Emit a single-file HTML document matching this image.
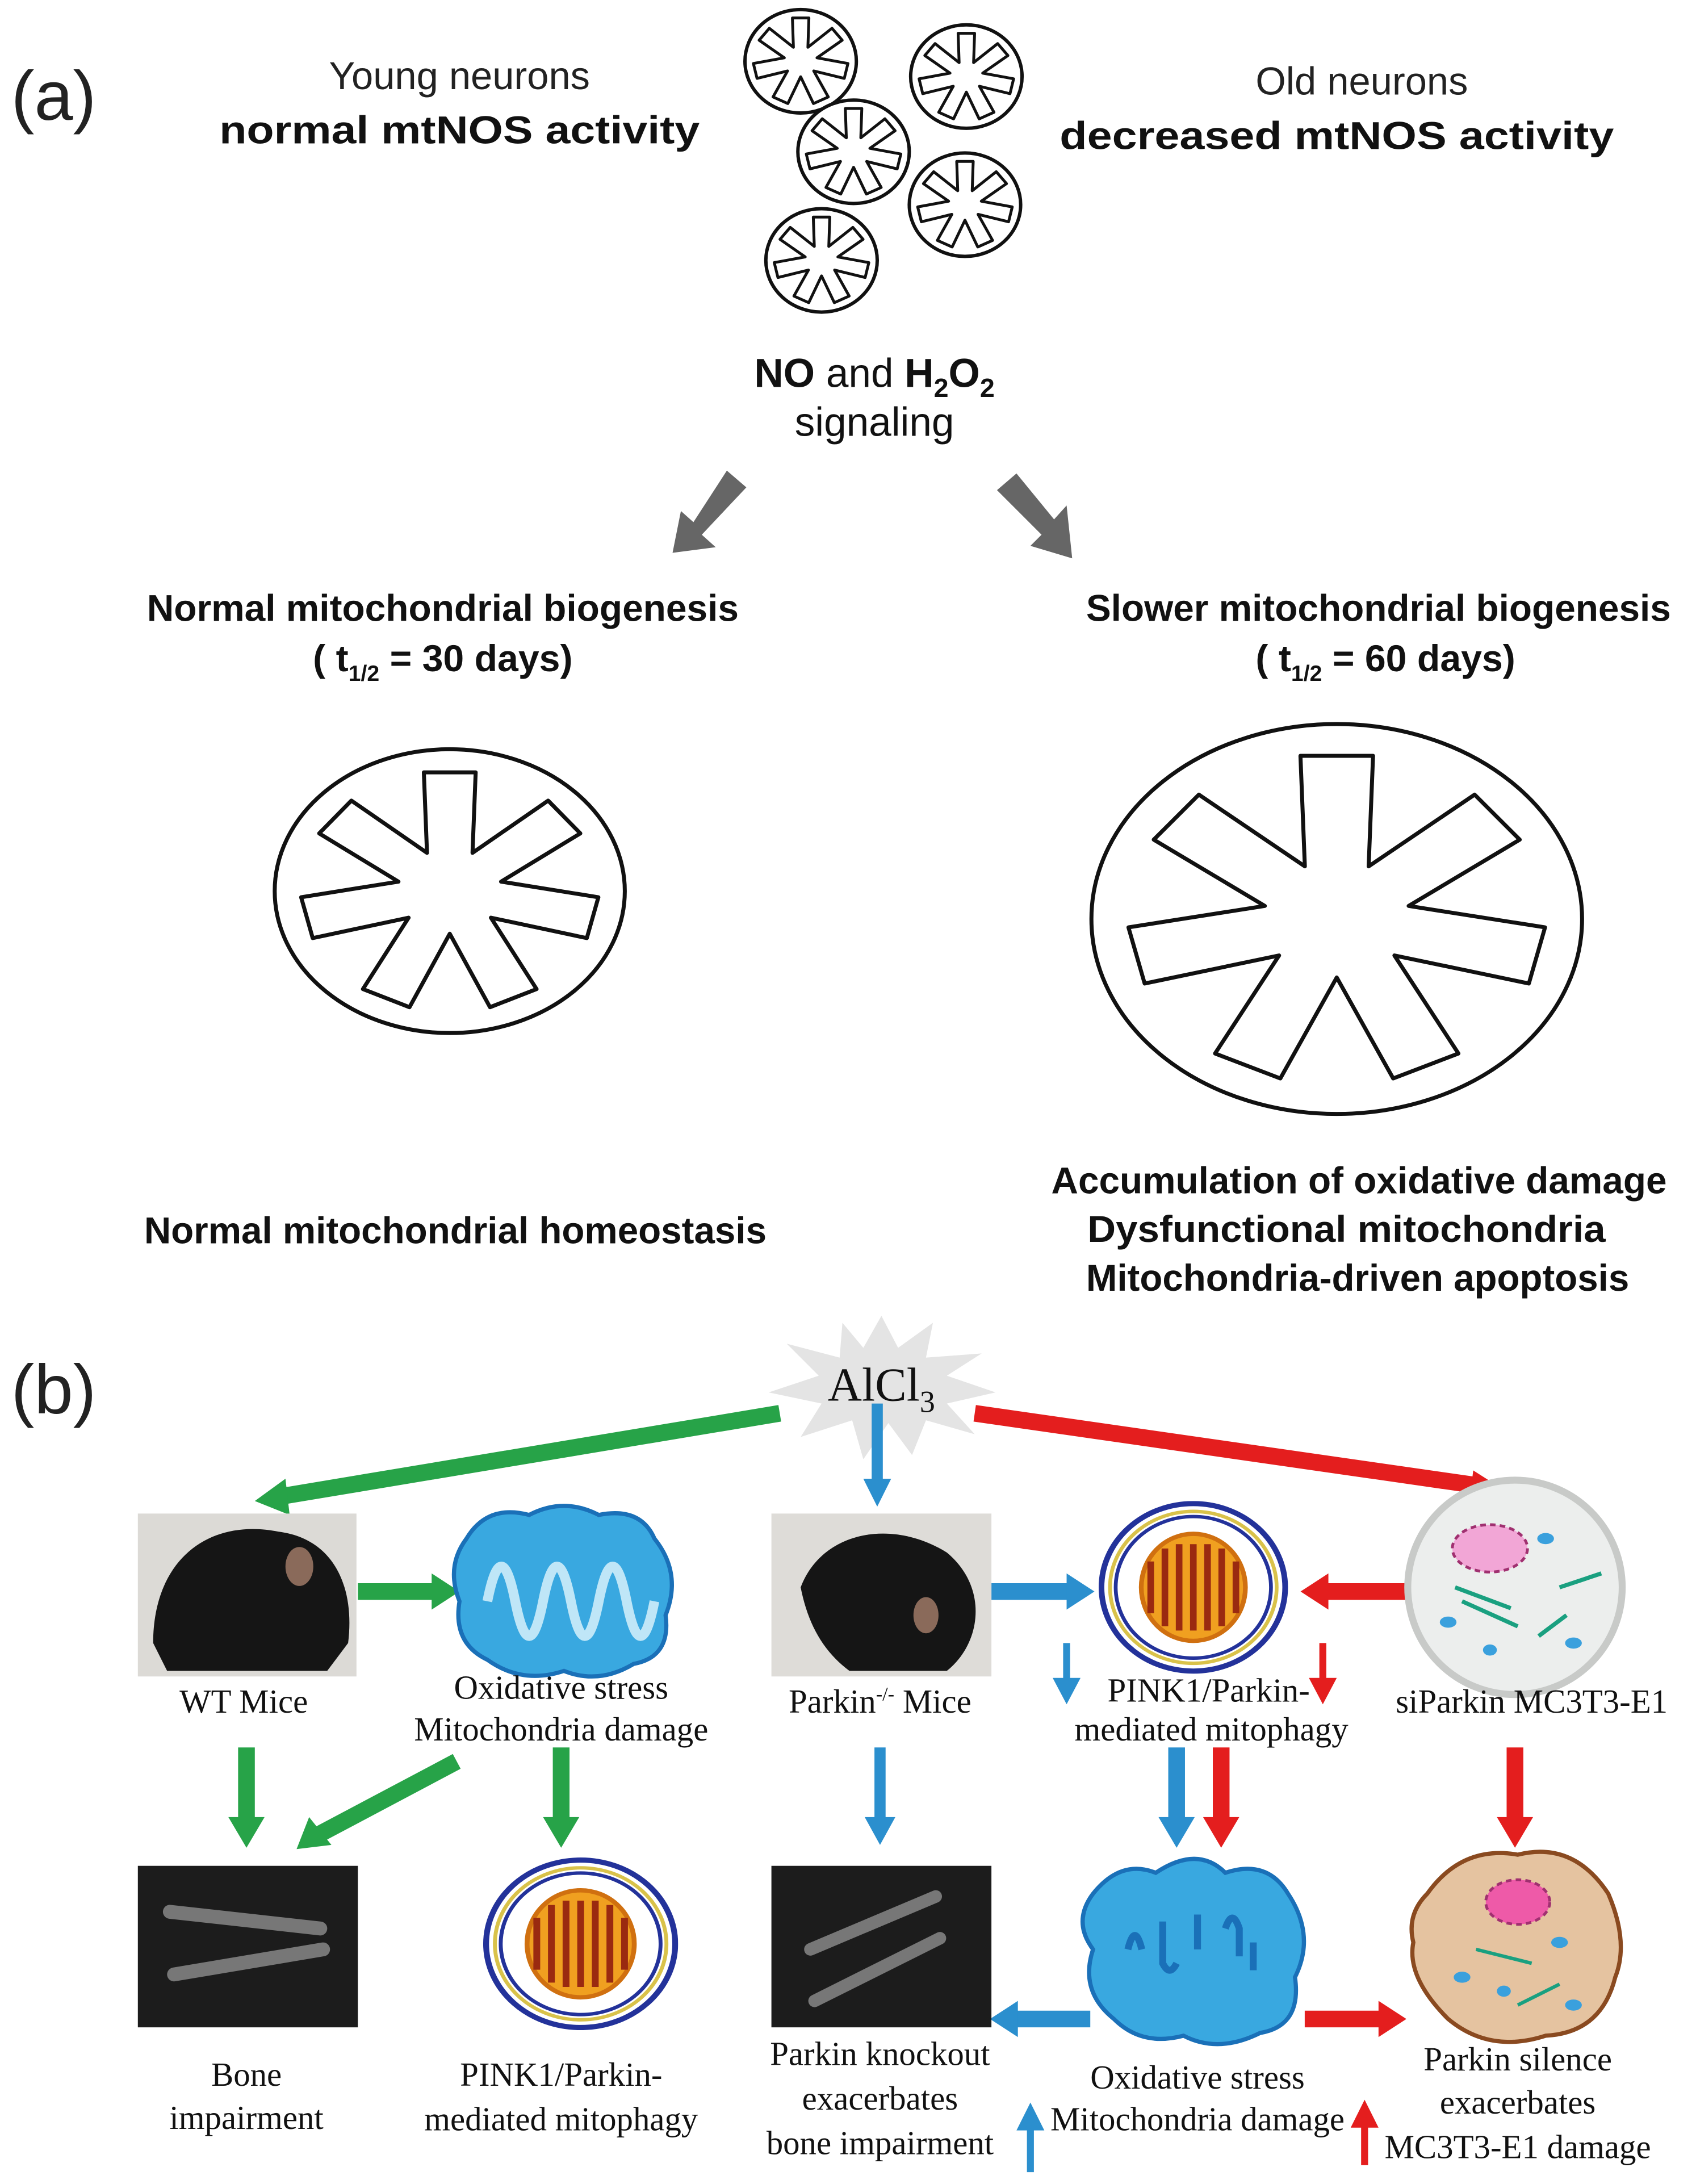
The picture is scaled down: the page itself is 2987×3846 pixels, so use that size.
<!DOCTYPE html>
<html><head><meta charset="utf-8"><style>
html,body{margin:0;padding:0;background:#fff}
svg{display:block}
.s{font-family:"Liberation Sans",sans-serif}
.b{font-family:"Liberation Sans",sans-serif;font-weight:bold}
.t{font-family:"Liberation Serif",serif;font-size:24px;fill:#111}
</style></head><body>
<svg width="2987" height="3846" viewBox="0 0 1218 1568.5" preserveAspectRatio="none" xmlns="http://www.w3.org/2000/svg">
<defs>
<symbol id="mito" viewBox="-1.05 -1.05 2.1 2.1" preserveAspectRatio="none">
<ellipse cx="0" cy="0" rx="1" ry="1" fill="#fff" stroke="#111" stroke-width="7" vector-effect="non-scaling-stroke"/>
<polygon points="-0.148,-0.837 0.148,-0.837 0.130,-0.270 0.562,-0.638 0.746,-0.407 0.293,-0.067 0.849,0.043 0.783,0.331 0.235,0.187 0.496,0.690 0.230,0.818 0,0.3 -0.230,0.818 -0.496,0.690 -0.235,0.187 -0.783,0.331 -0.849,0.043 -0.293,-0.067 -0.746,-0.407 -0.562,-0.638 -0.130,-0.270" fill="none" stroke="#111" stroke-width="7" stroke-linejoin="round" vector-effect="non-scaling-stroke"/>
</symbol>
<symbol id="mitos" viewBox="-1.05 -1.05 2.1 2.1" preserveAspectRatio="none">
<ellipse cx="0" cy="0" rx="1" ry="1" fill="#fff" stroke="#111" stroke-width="6" vector-effect="non-scaling-stroke"/>
<polygon points="-0.148,-0.837 0.148,-0.837 0.130,-0.270 0.562,-0.638 0.746,-0.407 0.293,-0.067 0.849,0.043 0.783,0.331 0.235,0.187 0.496,0.690 0.230,0.818 0,0.3 -0.230,0.818 -0.496,0.690 -0.235,0.187 -0.783,0.331 -0.849,0.043 -0.293,-0.067 -0.746,-0.407 -0.562,-0.638 -0.130,-0.270" fill="none" stroke="#111" stroke-width="5" stroke-linejoin="round" vector-effect="non-scaling-stroke"/>
</symbol>
<symbol id="pink" viewBox="-1 -1 2 2" preserveAspectRatio="none">
<ellipse rx="0.97" ry="0.97" fill="#fff" stroke="#23329a" stroke-width="0.06"/>
<ellipse rx="0.88" ry="0.88" fill="none" stroke="#d9c24a" stroke-width="0.04"/>
<ellipse rx="0.82" ry="0.82" fill="none" stroke="#23329a" stroke-width="0.04"/>
<ellipse rx="0.55" ry="0.62" fill="#f0a020" stroke="#d07010" stroke-width="0.05"/>
<path d="M-0.45,0.3 L-0.45,-0.3 M-0.3,0.45 L-0.3,-0.45 M-0.15,0.5 L-0.15,-0.5 M0,0.5 L0,-0.5 M0.15,0.5 L0.15,-0.5 M0.3,0.45 L0.3,-0.45 M0.45,0.3 L0.45,-0.3" stroke="#9a2a10" stroke-width="0.07"/>
</symbol>
</defs>
<rect width="1218" height="1568.5" fill="#fff"/>
<!-- (a) -->
<text x="8" y="86" class="s" font-size="50" fill="#222">(a)</text>
<text x="330" y="64" class="s" font-size="28" text-anchor="middle" fill="#222">Young neurons</text>
<text x="330" y="103" class="b" font-size="28" text-anchor="middle" fill="#111" textLength="345" lengthAdjust="spacingAndGlyphs">normal mtNOS activity</text>
<text x="978" y="68" class="s" font-size="28" text-anchor="middle" fill="#222">Old neurons</text>
<text x="960" y="107" class="b" font-size="28" text-anchor="middle" fill="#111" textLength="398" lengthAdjust="spacingAndGlyphs">decreased mtNOS activity</text>
<use href="#mitos" x="533" y="5" width="84" height="78"/>
<use href="#mitos" x="652" y="16" width="84" height="78"/>
<use href="#mitos" x="571" y="70" width="84" height="78"/>
<use href="#mitos" x="651" y="108" width="84" height="78"/>
<use href="#mitos" x="548" y="148" width="84" height="78"/>
<text x="628" y="278" class="s" font-size="29" text-anchor="middle" fill="#111"><tspan font-weight="bold">NO</tspan> and <tspan font-weight="bold">H<tspan font-size="19" dy="7">2</tspan><tspan dy="-7">O</tspan><tspan font-size="19" dy="7">2</tspan></tspan></text>
<text x="628" y="313" class="s" font-size="29" text-anchor="middle" fill="#111">signaling</text>
<g fill="#666">
<polygon points="522,338 536,350 504,384 514,393 483,397 489,367 498,375"/>
<polygon points="716,352 730,340 757,373 766,363 770,401 740,392 748,384"/>
</g>
<text x="318" y="446" class="b" font-size="27" text-anchor="middle" fill="#111" textLength="425" lengthAdjust="spacingAndGlyphs">Normal mitochondrial biogenesis</text>
<text x="318" y="482" class="b" font-size="27" text-anchor="middle" fill="#111">( t<tspan font-size="16" dy="7">1/2</tspan><tspan dy="-7"> = 30 days)</tspan></text>
<text x="990" y="446" class="b" font-size="27" text-anchor="middle" fill="#111" textLength="420" lengthAdjust="spacingAndGlyphs">Slower mitochondrial biogenesis</text>
<text x="995" y="482" class="b" font-size="27" text-anchor="middle" fill="#111">( t<tspan font-size="16" dy="7">1/2</tspan><tspan dy="-7"> = 60 days)</tspan></text>
<use href="#mito" x="191" y="533" width="264" height="214"/>
<use href="#mito" x="775" y="513" width="370" height="294"/>
<text x="327" y="893" class="b" font-size="27" text-anchor="middle" fill="#111" textLength="447" lengthAdjust="spacingAndGlyphs">Normal mitochondrial homeostasis</text>
<text x="976" y="857" class="b" font-size="27" text-anchor="middle" fill="#111" textLength="442" lengthAdjust="spacingAndGlyphs">Accumulation of oxidative damage</text>
<text x="967" y="892" class="b" font-size="27" text-anchor="middle" fill="#111" textLength="372" lengthAdjust="spacingAndGlyphs">Dysfunctional mitochondria</text>
<text x="975" y="927" class="b" font-size="27" text-anchor="middle" fill="#111" textLength="390" lengthAdjust="spacingAndGlyphs">Mitochondria-driven apoptosis</text>
<!-- (b) -->
<text x="8" y="1015" class="s" font-size="50" fill="#222">(b)</text>
<polygon points="633,945 645,968 670,950 665,975 705,972 680,988 715,1000 680,1008 700,1030 665,1020 655,1045 638,1022 620,1048 612,1020 575,1032 590,1008 552,1000 588,988 565,965 603,975 605,950 620,968" fill="#e4e4e4"/>
<text x="633" y="1006" font-family="Liberation Serif,serif" font-size="34" text-anchor="middle" fill="#111">AlCl<tspan font-size="22" dy="8">3</tspan></text>
<g stroke-width="12" fill="none">
<line x1="560" y1="1015" x2="200" y2="1075" stroke="#27a348"/>
<line x1="700" y1="1015" x2="1062" y2="1067" stroke="#e41e1e"/>
<line x1="630" y1="1008" x2="630" y2="1065" stroke="#2b8fce" stroke-width="8"/>
<line x1="257" y1="1143" x2="312" y2="1143" stroke="#27a348"/>
<line x1="712" y1="1143" x2="768" y2="1143" stroke="#2b8fce"/>
<line x1="1010" y1="1143" x2="952" y2="1143" stroke="#e41e1e"/>
<line x1="177" y1="1255" x2="177" y2="1308" stroke="#27a348"/>
<line x1="328" y1="1265" x2="228" y2="1318" stroke="#27a348"/>
<line x1="403" y1="1255" x2="403" y2="1308" stroke="#27a348"/>
<line x1="632" y1="1255" x2="632" y2="1308" stroke="#2b8fce" stroke-width="8"/>
<line x1="845" y1="1255" x2="845" y2="1308" stroke="#2b8fce"/>
<line x1="877" y1="1255" x2="877" y2="1308" stroke="#e41e1e"/>
<line x1="1088" y1="1255" x2="1088" y2="1308" stroke="#e41e1e"/>
<line x1="783" y1="1450" x2="728" y2="1450" stroke="#2b8fce"/>
<line x1="937" y1="1450" x2="992" y2="1450" stroke="#e41e1e"/>
<line x1="766" y1="1180" x2="766" y2="1208" stroke="#2b8fce" stroke-width="5"/>
<line x1="950" y1="1180" x2="950" y2="1208" stroke="#e41e1e" stroke-width="5"/>
<line x1="740" y1="1560" x2="740" y2="1528" stroke="#2b8fce" stroke-width="5"/>
<line x1="980" y1="1555" x2="980" y2="1525" stroke="#e41e1e" stroke-width="5"/>
</g>
<g>
<polygon points="183,1078 205,1062 208,1088" fill="#27a348"/>
<polygon points="1080,1070 1058,1056 1055,1082" fill="#e41e1e"/>
<polygon points="630,1082 620,1062 640,1062" fill="#2b8fce"/>
<polygon points="330,1143 310,1130 310,1156" fill="#27a348"/>
<polygon points="786,1143 766,1130 766,1156" fill="#2b8fce"/>
<polygon points="934,1143 954,1130 954,1156" fill="#e41e1e"/>
<polygon points="177,1327 164,1305 190,1305" fill="#27a348"/>
<polygon points="213,1328 222,1305 238,1325" fill="#27a348"/>
<polygon points="403,1327 390,1305 416,1305" fill="#27a348"/>
<polygon points="632,1325 621,1305 643,1305" fill="#2b8fce"/>
<polygon points="845,1327 832,1305 858,1305" fill="#2b8fce"/>
<polygon points="877,1327 864,1305 890,1305" fill="#e41e1e"/>
<polygon points="1088,1327 1075,1305 1101,1305" fill="#e41e1e"/>
<polygon points="711,1450 731,1437 731,1463" fill="#2b8fce"/>
<polygon points="1010,1450 990,1437 990,1463" fill="#e41e1e"/>
<polygon points="766,1224 756,1205 776,1205" fill="#2b8fce"/>
<polygon points="950,1224 940,1205 960,1205" fill="#e41e1e"/>
<polygon points="740,1510 730,1530 750,1530" fill="#2b8fce"/>
<polygon points="980,1508 970,1528 990,1528" fill="#e41e1e"/>
</g>
<rect x="99" y="1087" width="157" height="117" fill="#dcdad6"/>
<path d="M110,1180 C110,1120 150,1090 200,1100 C240,1105 255,1140 250,1180 L235,1200 L120,1200 Z" fill="#151515"/>
<ellipse cx="215" cy="1125" rx="10" ry="14" fill="#8a6a5a"/>
<rect x="554" y="1087" width="158" height="117" fill="#dedcd8"/>
<path d="M575,1140 C590,1100 640,1090 680,1115 C710,1140 705,1180 680,1200 L610,1200 C590,1185 580,1165 575,1140 Z" fill="#151515"/>
<ellipse cx="665" cy="1160" rx="9" ry="13" fill="#8a6a5a"/>
<path d="M335,1105 Q350,1080 380,1088 Q405,1075 430,1088 Q460,1082 470,1105 Q490,1130 478,1160 Q482,1190 455,1195 Q430,1210 405,1200 Q375,1210 350,1192 Q325,1180 330,1150 Q320,1125 335,1105 Z" fill="#39a8e0" stroke="#1a70b8" stroke-width="3"/>
<path d="M350,1150 q10,-50 20,0 t20,0 t20,0 t20,0 t20,0 t20,0" fill="none" stroke="#bfe6f7" stroke-width="7"/>
<use href="#pink" x="789" y="1078" width="136" height="124"/>
<circle cx="1088" cy="1140" r="77" fill="#eceeed" stroke="#c8cac8" stroke-width="5"/>
<ellipse cx="1070" cy="1112" rx="27" ry="17" fill="#f2a6d6" stroke="#a03070" stroke-width="2" stroke-dasharray="4 3"/>
<g stroke="#1aa080" stroke-width="3"><line x1="1045" y1="1140" x2="1085" y2="1155"/><line x1="1050" y1="1150" x2="1090" y2="1168"/><line x1="1105" y1="1175" x2="1125" y2="1160"/><line x1="1120" y1="1140" x2="1150" y2="1130"/></g>
<g fill="#3aa0dd"><ellipse cx="1040" cy="1165" rx="6" ry="4"/><ellipse cx="1110" cy="1105" rx="6" ry="4"/><ellipse cx="1130" cy="1180" rx="6" ry="4"/><ellipse cx="1070" cy="1185" rx="5" ry="4"/></g>
<rect x="99" y="1340" width="158" height="116" fill="#1c1c1c"/>
<path d="M122,1373 L230,1385 M125,1418 L232,1400" stroke="#777" stroke-width="10" stroke-linecap="round"/>
<rect x="554" y="1340" width="158" height="116" fill="#1c1c1c"/>
<path d="M582,1400 L672,1362 M585,1437 L675,1392" stroke="#777" stroke-width="9" stroke-linecap="round"/>
<use href="#pink" x="347" y="1334" width="140" height="124"/>
<path d="M785,1360 Q805,1335 830,1345 Q860,1325 880,1345 Q910,1335 925,1360 Q945,1390 930,1420 Q935,1455 905,1460 Q875,1475 850,1462 Q820,1470 800,1450 Q775,1430 785,1400 Q770,1380 785,1360 Z" fill="#39a8e0" stroke="#1a70b8" stroke-width="3"/>
<g fill="none" stroke="#1a70b8" stroke-width="5"><path d="M810,1400 q5,-20 10,0"/><path d="M835,1380 v30 q5,10 10,0"/><path d="M860,1375 v25"/><path d="M880,1385 q5,-15 10,0 v20"/><path d="M900,1395 v20"/></g>
<path d="M1025,1360 Q1050,1325 1090,1332 Q1130,1322 1155,1360 Q1170,1395 1160,1420 Q1150,1460 1110,1462 Q1070,1475 1040,1450 Q1010,1420 1015,1395 Q1010,1375 1025,1360 Z" fill="#e5c3a0" stroke="#8a4a20" stroke-width="3"/>
<ellipse cx="1090" cy="1366" rx="23" ry="16" fill="#ee5aa8" stroke="#a03070" stroke-width="2" stroke-dasharray="4 3"/>
<g fill="#3aa0dd"><ellipse cx="1050" cy="1420" rx="6" ry="4"/><ellipse cx="1120" cy="1395" rx="6" ry="4"/><ellipse cx="1130" cy="1440" rx="6" ry="4"/><ellipse cx="1080" cy="1430" rx="5" ry="4"/></g>
<g stroke="#1aa080" stroke-width="2.5"><line x1="1060" y1="1400" x2="1100" y2="1410"/><line x1="1090" y1="1440" x2="1120" y2="1425"/></g>
<g class="t" text-anchor="middle">
<text x="175" y="1230">WT Mice</text>
<text x="403" y="1220">Oxidative stress</text>
<text x="403" y="1250">Mitochondria damage</text>
<text x="632" y="1230">Parkin<tspan font-size="14" dy="-9">-/-</tspan><tspan dy="9"> Mice</tspan></text>
<text x="868" y="1222">PINK1/Parkin-</text>
<text x="870" y="1250">mediated mitophagy</text>
<text x="1100" y="1230">siParkin MC3T3-E1</text>
<text x="177" y="1498">Bone</text>
<text x="177" y="1529">impairment</text>
<text x="403" y="1498">PINK1/Parkin-</text>
<text x="403" y="1530">mediated mitophagy</text>
<text x="632" y="1483">Parkin knockout</text>
<text x="632" y="1515">exacerbates</text>
<text x="632" y="1547">bone impairment</text>
<text x="860" y="1500">Oxidative stress</text>
<text x="860" y="1530">Mitochondria damage</text>
<text x="1090" y="1487">Parkin silence</text>
<text x="1090" y="1518">exacerbates</text>
<text x="1090" y="1550">MC3T3-E1 damage</text>
</g>
</svg>
</body></html>
